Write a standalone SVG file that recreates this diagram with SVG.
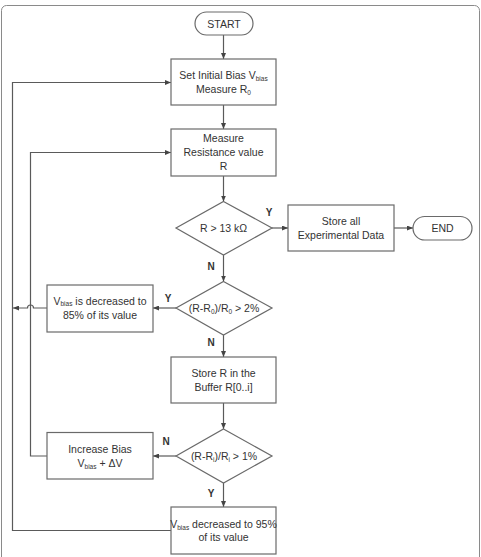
<svg xmlns="http://www.w3.org/2000/svg" width="481" height="557" viewBox="0 0 481 557">
<style>
.box{fill:#fff;stroke:#6a6a6a;stroke-width:1.2}
.ln{fill:none;stroke:#5a5a5a;stroke-width:1.2}
.t{font-family:"Liberation Sans",Arial,sans-serif;font-size:10.5px;fill:#333;text-anchor:middle}
.lb{font-family:"Liberation Sans",Arial,sans-serif;font-size:10px;font-weight:bold;fill:#333;text-anchor:middle}
.s{font-size:6.5px}
</style>
<defs>
<marker id="ah" markerWidth="6" markerHeight="5" refX="6" refY="2.5" orient="auto" markerUnits="userSpaceOnUse">
<path d="M0,0 L6,2.5 L0,5 z" fill="#444"/>
</marker>
</defs>
<rect x="1.5" y="5.5" width="478" height="570" rx="5" fill="#fff" stroke="#8a8a8a" stroke-width="1"/>
<g id="connectors">
<path class="ln" d="M223.5,35 V59" marker-end="url(#ah)"/>
<path class="ln" d="M223.5,105 V129" marker-end="url(#ah)"/>
<path class="ln" d="M223.5,176 V201.5" marker-end="url(#ah)"/>
<path class="ln" d="M272,228 H288" marker-end="url(#ah)"/>
<path class="ln" d="M394,228 H413" marker-end="url(#ah)"/>
<path class="ln" d="M223.5,255 V281.5" marker-end="url(#ah)"/>
<path class="ln" d="M176,308 H153" marker-end="url(#ah)"/>
<path class="ln" d="M47,308 H33.5 A3,3 0 0 0 27.5,308 H13" marker-end="url(#ah)"/>
<path class="ln" d="M223.5,335 V357" marker-end="url(#ah)"/>
<path class="ln" d="M223.5,403 V429" marker-end="url(#ah)"/>
<path class="ln" d="M176,456 H153" marker-end="url(#ah)"/>
<path class="ln" d="M47,456 H30.5 V152.5 H171" marker-end="url(#ah)"/>
<path class="ln" d="M223.5,483 V507" marker-end="url(#ah)"/>
<path class="ln" d="M171,530.5 H12.5 V82.5 H171" marker-end="url(#ah)"/>
<text class="lb" x="269" y="216">Y</text>
<text class="lb" x="211" y="270">N</text>
<text class="lb" x="168" y="302">Y</text>
<text class="lb" x="211" y="346">N</text>
<text class="lb" x="166" y="445">N</text>
<text class="lb" x="211" y="497">Y</text>
</g>
<g id="start">
<rect class="box" x="195" y="12" width="58" height="23" rx="11.5"/>
<text class="t" x="224" y="27.5">START</text>
</g>
<g id="setbias">
<rect class="box" x="171" y="59" width="105" height="46"/>
<text class="t" x="223.5" y="79">Set Initial Bias V<tspan class="s" dy="2">bias</tspan></text>
<text class="t" x="223.5" y="93">Measure R<tspan class="s" dy="2">0</tspan></text>
</g>
<g id="measure">
<rect class="box" x="171" y="129" width="105" height="47"/>
<text class="t" x="223.5" y="142">Measure</text>
<text class="t" x="223.5" y="156">Resistance value</text>
<text class="t" x="223.5" y="170">R</text>
</g>
<g id="dec1">
<polygon class="box" points="223.5,201.5 272,228 223.5,255 176,228"/>
<text class="t" x="223.5" y="232">R &gt; 13 kΩ</text>
</g>
<g id="store">
<rect class="box" x="288" y="205" width="106" height="46"/>
<text class="t" x="341" y="225">Store all</text>
<text class="t" x="341" y="239">Experimental Data</text>
</g>
<g id="end">
<rect class="box" x="413" y="216.5" width="59" height="23.5" rx="11.75"/>
<text class="t" x="442.5" y="232">END</text>
</g>
<g id="dec2">
<polygon class="box" points="223.5,281.5 272,308 223.5,335 176,308"/>
<text class="t" x="224" y="312">(R-R<tspan class="s" dy="2">0</tspan><tspan dy="-2">)/R</tspan><tspan class="s" dy="2">0</tspan><tspan dy="-2"> &gt; 2%</tspan></text>
</g>
<g id="dec85">
<rect class="box" x="47" y="285" width="106" height="47"/>
<text class="t" x="100" y="305">V<tspan class="s" dy="1">bias</tspan><tspan dy="-1"> is decreased to</tspan></text>
<text class="t" x="100" y="319">85% of its value</text>
</g>
<g id="buffer">
<rect class="box" x="171" y="357" width="105" height="46"/>
<text class="t" x="223.5" y="376.5">Store R in the</text>
<text class="t" x="223.5" y="390.5">Buffer R[0..i]</text>
</g>
<g id="dec3">
<polygon class="box" points="223.5,429 272,456 223.5,483 176,456"/>
<text class="t" x="224" y="460">(R-R<tspan class="s" dy="2">i</tspan><tspan dy="-2">)/R</tspan><tspan class="s" dy="2">i</tspan><tspan dy="-2"> &gt; 1%</tspan></text>
</g>
<g id="increase">
<rect class="box" x="47" y="432.5" width="106" height="46.5"/>
<text class="t" x="100" y="452.5">Increase Bias</text>
<text class="t" x="100" y="466.5">V<tspan class="s" dy="2">bias</tspan><tspan dy="-2"> + ΔV</tspan></text>
</g>
<g id="dec95">
<rect class="box" x="171" y="507" width="105" height="47"/>
<text class="t" x="223.5" y="527.5">V<tspan class="s" dy="2">bias</tspan><tspan dy="-2"> decreased to 95%</tspan></text>
<text class="t" x="223.5" y="540.5">of its value</text>
</g>
</svg>
